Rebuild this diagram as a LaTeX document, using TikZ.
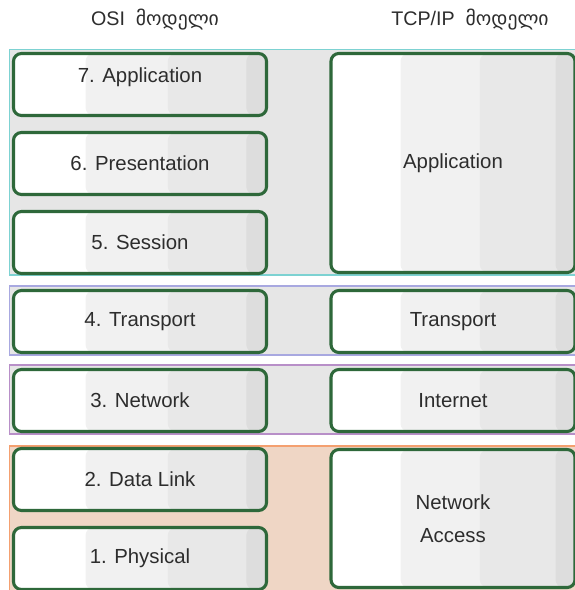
\documentclass[tikz,border=0pt]{standalone}
\usepackage{fontspec}
\setmainfont{Liberation Sans}
\newfontfamily\geofont{DejaVu Sans}
\usetikzlibrary{positioning, calc}
\definecolor{layergreen}{RGB}{46,104,58}
\definecolor{layertext}{RGB}{45,45,45}
\definecolor{stripeA}{RGB}{241,241,241}
\definecolor{stripeB}{RGB}{232,232,232}
\definecolor{stripeC}{RGB}{221,221,221}
\definecolor{bandgray}{RGB}{230,230,230}
\definecolor{bandpeach}{RGB}{239,214,197}
\definecolor{lineteal}{RGB}{125,210,210}
\definecolor{linelavender}{RGB}{168,168,224}
\definecolor{linepurple}{RGB}{184,143,200}
\definecolor{lineorange}{RGB}{244,160,112}

\begin{document}
\begin{tikzpicture}[x=0.025cm, y=-0.025cm,
	layer/.style={draw=layergreen, line width=2.2pt, rounded corners=0.2cm, fill=white,
		text=layertext, font=\fontsize{14.5}{17}\selectfont, align=center, inner sep=0pt,
		path picture={
			\coordinate (sw) at (path picture bounding box.south west);
			\coordinate (ne) at (path picture bounding box.north east);
			\fill[stripeA] ($(sw)!0.285!(sw -| ne)$) rectangle (ne);
			\fill[stripeB] ($(sw)!0.61!(sw -| ne)$) rectangle (ne);
			\fill[stripeC] ($(sw)!0.92!(sw -| ne)$) rectangle (ne);
		}},
	osi/.style={layer, minimum width=6.325cm, minimum height=1.55cm},
	tcp/.style={layer, minimum width=6.1cm, minimum height=1.55cm},
	band/.style={draw, rectangle, inner sep=0pt, line width=0.8pt, minimum width=14.25cm},
	title/.style={text=layertext, font=\fontsize{14}{17}\selectfont}]
		\useasboundingbox (0,0) rectangle (574,590);
		
		% coloured bands behind the layers
		\node (Band Upper) at (295,162.25) [band, draw=lineteal, fill=bandgray, minimum height=5.6375cm]{};
		\node (Band Transport) at (295,320.5) [band, draw=linelavender, fill=bandgray, minimum height=1.725cm]{};
		\node (Band Internet) at (295,399.5) [band, draw=linepurple, fill=bandgray, minimum height=1.725cm]{};
		\node (Band Access) at (295,523) [band, draw=lineorange, fill=bandpeach, minimum height=3.85cm]{};
		
		\node (OSI Title) at (155,20) [title]{OSI\ \ {\geofont მოდელი}};
		\node (TCPIP Title) at (470,20) [title]{TCP/IP\ \ {\geofont მოდელი}};
		
		% OSI model
		\node (OSI Application) at (140,84.5) [osi]{\raisebox{13pt}{7. Application}};
		\node (OSI Presentation) at (140,163.5) [osi]{6. Presentation};
		\node (OSI Session) at (140,242.5) [osi]{5. Session};
		\node (OSI Transport) at (140,321.5) [osi]{4. Transport};
		\node (OSI Network) at (140,400.5) [osi]{3. Network};
		\node (OSI Data Link) at (140,479.5) [osi]{2. Data Link};
		\node (OSI Physical) at (140,558.5) [osi]{1. Physical};
		
		% TCP/IP model
		\node (TCPIP Application) at (453,163) [tcp, minimum height=5.475cm]{Application};
		\node (TCPIP Transport) at (453,321.5) [tcp]{Transport};
		\node (TCPIP Internet) at (453,400.5) [tcp]{Internet};
		\node (TCPIP Access) at (453,518.5) [tcp, minimum height=3.45cm]{Network\\[6.5pt]Access};
\end{tikzpicture}
\end{document}
